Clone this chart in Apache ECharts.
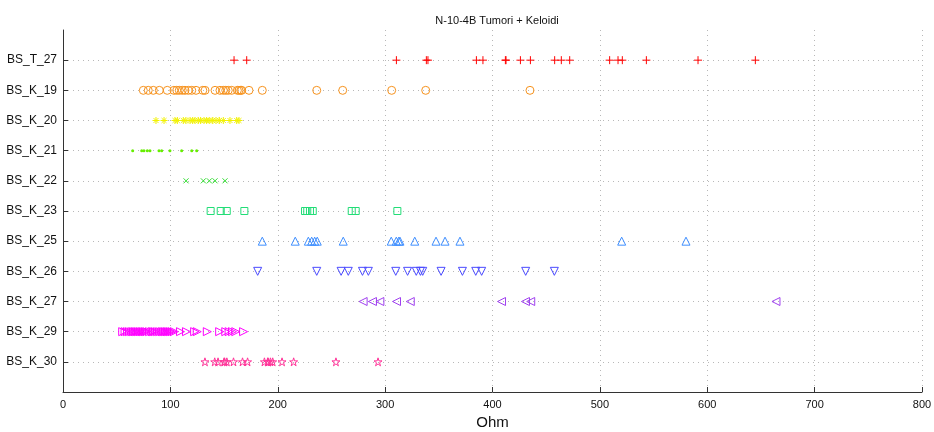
<!DOCTYPE html>
<html>
<head>
<meta charset="utf-8">
<script src="https://cdn.jsdelivr.net/npm/echarts@6/dist/echarts.min.js"></script>
<style>
  html, body { margin: 0; padding: 0; background: #fff; }
  #chart { width: 934px; height: 432px; }
</style>
</head>
<body>
<div id="chart"></div>
<script>
// Sample names, top to bottom
const samples = ['BS_T_27', 'BS_K_19', 'BS_K_20', 'BS_K_21', 'BS_K_22', 'BS_K_23',
                 'BS_K_25', 'BS_K_26', 'BS_K_27', 'BS_K_29', 'BS_K_30'];

// Measured resistance values (Ohm) per sample
const BS_T_27 = [159.3, 171.1, 310.5, 338.4, 339.9, 385.0, 391.1, 412.0, 412.6, 426.0, 435.3,
                 457.9, 464.1, 471.9, 509.1, 516.9, 520.9, 543.3, 591.4, 644.8];
const BS_K_19 = [74.8, 79.4, 84.1, 89.7, 97.1, 103.3, 105.9, 108.3, 111.1, 113.6, 116.7, 119.9,
                 123.9, 130.2, 132.3, 141.6, 146.2, 149.3, 151.6, 153.9, 157.1, 162.4, 163.9,
                 165.5, 166.4, 173.2, 185.6, 236.3, 260.5, 306.1, 337.8, 434.9];
const BS_K_20 = [86.6, 94.1, 104.3, 106.5, 112.0, 114.5, 118.3, 120.8, 122.9, 126.0, 128.2,
                 131.3, 133.8, 136.2, 139.4, 142.5, 145.6, 149.3, 155.5, 161.8, 163.9];
const BS_K_21 = [64.9, 73.3, 75.4, 78.5, 81.0, 89.4, 91.9, 99.6, 110.5, 119.9, 124.5];
const BS_K_22 = [114.6, 130.7, 136.3, 141.6, 150.9];
const BS_K_23 = [137.5, 146.9, 152.5, 168.9, 225.4, 227.5, 230.0, 232.6, 268.9, 272.6, 311.4];
const BS_K_25 = [185.6, 216.3, 228.5, 231.6, 234.4, 236.8, 261.0, 305.7, 310.4, 312.7, 313.8,
                 327.6, 347.4, 355.8, 369.7, 520.3, 580.2];
const BS_K_26 = [181.3, 236.3, 259.0, 265.7, 278.9, 284.4, 309.9, 320.9, 329.0, 332.9, 335.0,
                 352.1, 372.0, 384.4, 389.9, 430.9, 457.6];
const BS_K_27 = [279.5, 288.2, 295.1, 310.6, 323.4, 408.4, 430.7, 435.6, 664.0];
const BS_K_29 = [55.6, 57.8, 60.0, 61.9, 64.1, 65.7, 67.2, 68.7, 70.3, 71.9, 73.5, 75.0, 76.6,
                 78.1, 80.6, 82.9, 84.4, 86.0, 88.1, 90.1, 92.2, 93.8, 95.4, 96.9, 98.4, 100.0,
                 101.6, 103.7, 109.4, 115.0, 122.6, 125.0, 134.4, 145.9, 151.6, 154.7, 157.8,
                 160.9, 168.2];
const BS_K_30 = [132.2, 141.3, 144.4, 150.0, 150.5, 152.6, 158.8, 167.2, 171.9, 187.6, 190.6,
                 191.0, 193.2, 195.3, 204.0, 214.8, 254.2, 293.4];

// Axis ticks
const xTicks = [0, 100, 200, 300, 400, 500, 600, 700, 800];

const seriesValues = [BS_T_27, BS_K_19, BS_K_20, BS_K_21, BS_K_22, BS_K_23,
                      BS_K_25, BS_K_26, BS_K_27, BS_K_29, BS_K_30];

// Marker glyphs
const PLUS = 'path://M0,5L10,5M5,0L5,10';
const CROSS = 'path://M0,0L10,10M0,10L10,0';
const ASTER = 'path://M0,5L10,5M5,0L5,10M1.5,1.5L8.5,8.5M1.5,8.5L8.5,1.5';
const STAR = 'path://M50,0L61.17,34.63L97.55,34.55L68.07,55.87L79.39,90.45L50,69L20.61,90.45L31.93,55.87L2.45,34.55L38.83,34.63Z';

const styles = [
  { symbol: PLUS,       size: 8, rotate: 0,   color: '#ff0000', fill: false },
  { symbol: 'circle',   size: 8, rotate: 0,   color: '#f7931e', fill: false },
  { symbol: ASTER,      size: 7, rotate: 0,   color: '#f2f200', fill: false },
  { symbol: 'circle',   size: 3, rotate: 0,   color: '#66ee00', fill: true  },
  { symbol: CROSS,      size: 5, rotate: 0,   color: '#33dd33', fill: false },
  { symbol: 'rect',     size: 7, rotate: 0,   color: '#22dd77', fill: false },
  { symbol: 'triangle', size: 8, rotate: 0,   color: '#3f8fff', fill: false },
  { symbol: 'triangle', size: 8, rotate: 180, color: '#4a4aff', fill: false },
  { symbol: 'triangle', size: 8, rotate: 90,  color: '#a040f0', fill: false },
  { symbol: 'triangle', size: 8, rotate: -90, color: '#ff00ff', fill: false },
  { symbol: STAR,       size: 8, rotate: 0,   color: '#ff3399', fill: false }
];

// Category slots with an empty slot above and below the samples
const yCats = [''].concat(samples, [' ']);
const inner = (i) => i > 0 && i < yCats.length - 1;

const FONT = '"Liberation Sans", Arial, Helvetica, sans-serif';
const gridLine = { color: '#b8b8b8', width: 1, type: [1, 4] };

const series = samples.map((name, k) => {
  const st = styles[k];
  return {
    type: 'scatter',
    name: name,
    data: seriesValues[k].map(v => [v, name]),
    symbol: st.symbol,
    symbolSize: st.size,
    symbolRotate: st.rotate,
    itemStyle: st.fill
      ? { color: st.color, borderWidth: 0, opacity: 1 }
      : { color: 'rgba(0,0,0,0)', borderColor: st.color, borderWidth: 1, opacity: 1 },
    emphasis: { disabled: true },
    silent: true
  };
});

const chart = echarts.init(document.getElementById('chart'), null, { renderer: 'canvas' });
chart.setOption({
  animation: false,
  backgroundColor: '#ffffff',
  title: {
    text: 'N-10-4B Tumori + Keloidi',
    left: 492, top: 10, textAlign: 'center',
    textStyle: { fontFamily: FONT, fontSize: 11, fontWeight: 'normal', color: '#111' }
  },
  grid: { left: 63, right: 12, top: 30, bottom: 40, containLabel: false, outerBoundsMode: 'none' },
  xAxis: {
    type: 'value',
    min: xTicks[0], max: xTicks[xTicks.length - 1], interval: 100,
    name: 'Ohm', nameLocation: 'middle', nameGap: 23,
    nameTextStyle: { fontFamily: FONT, fontSize: 15, color: '#111' },
    axisLine: { show: true, lineStyle: { color: '#333', width: 1 } },
    axisTick: { show: true, inside: true, length: 5, lineStyle: { color: '#333' } },
    axisLabel: { fontFamily: FONT, fontSize: 11, color: '#111', margin: 7 },
    splitLine: { show: true, lineStyle: gridLine }
  },
  yAxis: {
    type: 'category',
    data: yCats,
    inverse: true,
    boundaryGap: false,
    axisLine: { show: true, lineStyle: { color: '#333', width: 1 } },
    axisTick: { show: true, inside: true, length: 5, interval: inner, lineStyle: { color: '#333' } },
    axisLabel: { fontFamily: FONT, fontSize: 12, color: '#111', margin: 6, interval: inner },
    splitLine: { show: true, interval: inner, lineStyle: gridLine }
  },
  series: series
});
</script>
</body>
</html>
